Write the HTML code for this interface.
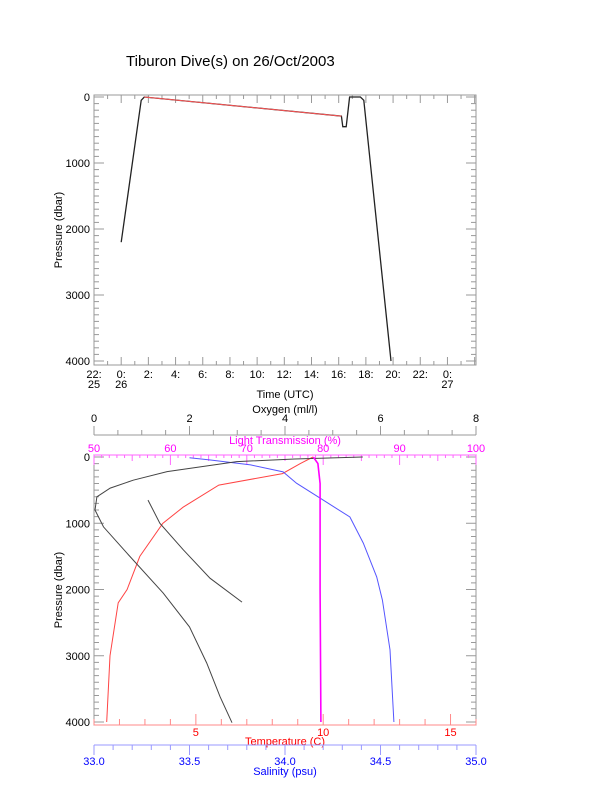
<!DOCTYPE html>
<html><head><meta charset="utf-8"><style>
body{margin:0;background:#fff}
svg{display:block;font-family:"Liberation Sans",sans-serif}
</style></head><body>
<svg id="s" width="612" height="785" viewBox="0 0 612 785" xmlns="http://www.w3.org/2000/svg">
<text x="126" y="66" font-size="15">Tiburon Dive(s) on 26/Oct/2003</text>
<g id="topplot"></g>
<g id="botplot"></g>
</svg>
<script>
// ---- top plot data ----
const timeHours=[0,1.47,1.7,16.2,16.3,16.55,16.8,17.6,17.85,19.85];
const timePressure=[2200,50,0,290,450,450,0,0,50,4000];
const redSegFrom=2, redSegTo=3;
const timeTickHours=[-2,0,2,4,6,8,10,12,14,16,18,20,22,24];
const timeTickLabels=["22:","0:","2:","4:","6:","8:","10:","12:","14:","16:","18:","20:","22:","0:"];
const timeTickDays=["25","26","","","","","","","","","","","","27"];
const pressTicks=[0,1000,2000,3000,4000];
// ---- bottom plot data ----
const tempP=[0,100,250,424,757,1000,1500,2000,2200,3000,4000];
const tempV=[9.6,9.1,8.4,5.9,4.5,3.7,2.8,2.3,1.95,1.63,1.5];
const salP=[10,45,120,225,395,650,905,1300,1810,2160,2910,4000];
const salV=[33.5,33.61,33.82,33.99,34.06,34.20,34.34,34.41,34.48,34.51,34.55,34.57];
const oxyP=[0,30,70,220,350,470,600,800,1055,1450,2055,2565,3110,3620,4010];
const oxyV=[5.63,4.2,2.99,1.53,0.82,0.34,0.06,0.02,0.2,0.69,1.45,2.0,2.36,2.64,2.89];
const oxy2P=[650,1000,1400,1830,2190];
const oxy2V=[1.13,1.38,1.87,2.43,3.1];
const ltP=[0,100,400,1000,2000,3000,4000];
const ltV=[78.7,79.3,79.6,79.6,79.6,79.65,79.7];
const oxyTicks=[0,2,4,6,8];
const ltTicks=[50,60,70,80,90,100];
const tempTicks=[5,10,15];
const salTicks=[33.0,33.5,34.0,34.5,35.0];

const NS="http://www.w3.org/2000/svg";
function mk(p,t,a){const e=document.createElementNS(NS,t);for(const k in a)e.setAttribute(k,a[k]);p.appendChild(e);return e;}
const L=94,R=476;
const tx=h=>L+(h+2)/(28.1)*(R-L);
const ty=p=>97+p*0.066;
const topG=document.getElementById('topplot');
let e=mk(topG,'rect',{x:L,y:95,width:R-L,height:270,fill:'none',stroke:'#999'});


for(let p=0;p<=4000;p+=100){const len=p%1000==0?10:5;
 mk(topG,'line',{x1:L,y1:ty(p),x2:L+len,y2:ty(p),stroke:'#999'});
 mk(topG,'line',{x1:R,y1:ty(p),x2:R-len,y2:ty(p),stroke:'#999'});}
pressTicks.forEach(p=>{e=mk(topG,'text',{x:L-4,y:ty(p)+4,'font-size':11,'text-anchor':'end'});e.textContent=p;
 
 });
for(let h=-2;h<=26;h++){const len=h%2==0?8:4;
 mk(topG,'line',{x1:tx(h),y1:365,x2:tx(h),y2:365-len,stroke:'#999'});
 mk(topG,'line',{x1:tx(h),y1:95,x2:tx(h),y2:95+len,stroke:'#999'});}
timeTickHours.forEach((h,i)=>{e=mk(topG,'text',{x:tx(h),y:378,'font-size':11,'text-anchor':'middle'});e.textContent=timeTickLabels[i];
 
 
 if(timeTickDays[i]){e=mk(topG,'text',{x:tx(h),y:388,'font-size':11,'text-anchor':'middle'});e.textContent=timeTickDays[i];
 
 }});
e=mk(topG,'text',{x:285,y:398,'font-size':11,'text-anchor':'middle'});e.textContent='Time (UTC)';


e=mk(topG,'text',{x:62,y:230,'font-size':11,'text-anchor':'middle',transform:'rotate(-90 62 230)'});e.textContent='Pressure (dbar)';


let d='';timeHours.forEach((h,i)=>{d+=(i?'L':'M')+tx(h).toFixed(1)+' '+ty(timePressure[i]).toFixed(1);});
e=mk(topG,'path',{d:d,fill:'none',stroke:'#222','stroke-width':1.3});


e=mk(topG,'line',{x1:tx(timeHours[redSegFrom]),y1:ty(timePressure[redSegFrom]),x2:tx(timeHours[redSegTo]),y2:ty(timePressure[redSegTo]),stroke:'#f55'});



const by=p=>457+p*0.06625;
const xo=v=>L+v/8*(R-L), xl=v=>L+(v-50)/50*(R-L), xt=v=>L+(v-1)/15*(R-L), xs=v=>L+(v-33)/2*(R-L);
const botG=document.getElementById('botplot');
e=mk(botG,'rect',{x:L,y:455,width:R-L,height:270,fill:'none',stroke:'#999'});


mk(botG,'line',{x1:L,y1:455,x2:R,y2:455,stroke:'#f6f'});
mk(botG,'line',{x1:L,y1:725,x2:R,y2:725,stroke:'#f88'});
for(let p=0;p<=4000;p+=100){const len=p%1000==0?10:5;
 mk(botG,'line',{x1:L,y1:by(p),x2:L+len,y2:by(p),stroke:'#999'});
 mk(botG,'line',{x1:R,y1:by(p),x2:R-len,y2:by(p),stroke:'#999'});}
pressTicks.forEach(p=>{e=mk(botG,'text',{x:L-4,y:by(p)+4,'font-size':11,'text-anchor':'end'});e.textContent=p;
 
 });
e=mk(botG,'text',{x:62,y:590,'font-size':11,'text-anchor':'middle',transform:'rotate(-90 62 590)'});e.textContent='Pressure (dbar)';


mk(botG,'line',{x1:L,y1:435,x2:R,y2:435,stroke:'#999'});
for(let v=0;v<=8;v+=0.5){mk(botG,'line',{x1:xo(v),y1:435,x2:xo(v),y2:v%2==0?426:430,stroke:'#999'});}
oxyTicks.forEach(v=>{e=mk(botG,'text',{x:xo(v),y:422,'font-size':11,'text-anchor':'middle'});e.textContent=v;
 
 });
e=mk(botG,'text',{x:285,y:413,'font-size':11,'text-anchor':'middle'});e.textContent='Oxygen (ml/l)';


for(let v=50;v<=100;v+=1){mk(botG,'line',{x1:xl(v),y1:455,x2:xl(v),y2:v%10==0?465:(v%5==0?461:458),stroke:'#f6f'});}
ltTicks.forEach(v=>{e=mk(botG,'text',{x:xl(v),y:452,'font-size':11,'text-anchor':'middle',fill:'#f0f'});e.textContent=v;
 
 });
e=mk(botG,'text',{x:285,y:444,'font-size':11,'text-anchor':'middle',fill:'#f0f'});e.textContent='Light Transmission (%)';


for(let v=1;v<=16;v+=1){mk(botG,'line',{x1:xt(v),y1:725,x2:xt(v),y2:v%5==0?714:719,stroke:'#f88'});}
tempTicks.forEach(v=>{e=mk(botG,'text',{x:xt(v),y:736,'font-size':11,'text-anchor':'middle',fill:'#f00'});e.textContent=v;
 
 });
e=mk(botG,'text',{x:285,y:745,'font-size':11,'text-anchor':'middle',fill:'#f00'});e.textContent='Temperature (C)';


mk(botG,'line',{x1:L,y1:745,x2:R,y2:745,stroke:'#99f'});
for(let i=0;i<=20;i++){const v=33+i*0.1;mk(botG,'line',{x1:xs(v),y1:745,x2:xs(v),y2:i%5==0?755:750,stroke:'#99f'});}
salTicks.forEach(v=>{e=mk(botG,'text',{x:xs(v),y:765,'font-size':11,'text-anchor':'middle',fill:'#00f'});e.textContent=v.toFixed(1);
 
 });
e=mk(botG,'text',{x:285,y:775,'font-size':11,'text-anchor':'middle',fill:'#00f'});e.textContent='Salinity (psu)';


function line(ps,vs,fx,col,w){let d='';ps.forEach((p,i)=>{d+=(i?'L':'M')+fx(vs[i]).toFixed(1)+' '+by(p).toFixed(1);});
 return mk(botG,'path',{d:d,fill:'none',stroke:col,'stroke-width':w});}
e=line(tempP,tempV,xt,'#f44',1);


e=line(salP,salV,xs,'#55f',1);


e=line(oxyP,oxyV,xo,'#444',1);


e=line(oxy2P,oxy2V,xo,'#444',1);


e=line(ltP,ltV,xl,'#f0f',1.6);


</script>
</body></html>
